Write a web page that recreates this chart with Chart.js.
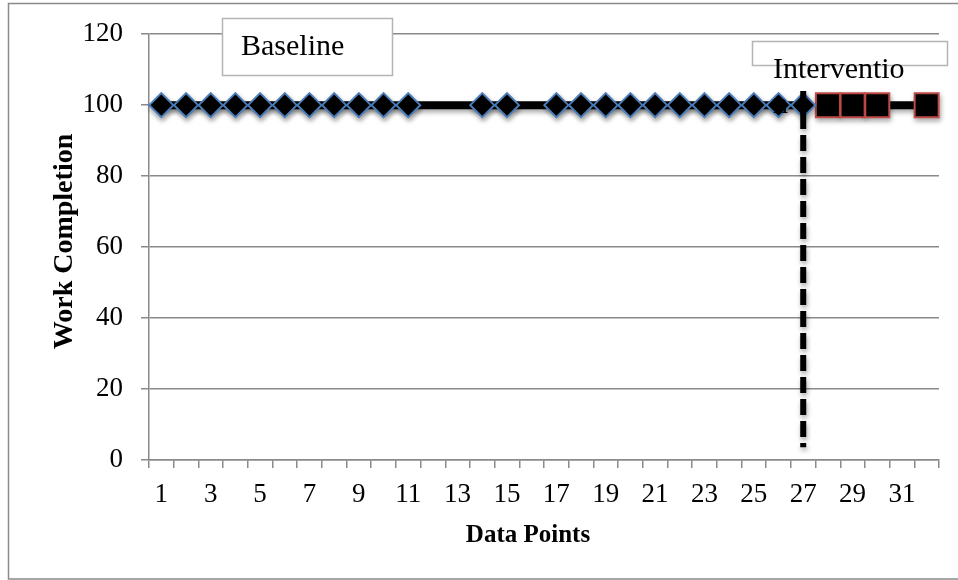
<!DOCTYPE html>
<html>
<head>
<meta charset="utf-8">
<title>Work Completion</title>
<script src="https://cdn.jsdelivr.net/npm/chart.js@4/dist/chart.umd.min.js"></script>
<style>
  html, body { margin: 0; padding: 0; background: #fff; }
  #wrap { width: 958px; height: 580px; }
</style>
</head>
<body>
<div id="wrap"><canvas id="chart" width="958" height="580"></canvas></div>
<script>
// Sessions 1..32 on the x axis
const sessions = ['1','2','3','4','5','6','7','8','9','10','11','12','13','14','15','16',
                  '17','18','19','20','21','22','23','24','25','26','27','28','29','30','31','32'];

// Baseline phase (no data for sessions 12, 13 and 16)
const baselineScores = [100,100,100,100,100,100,100,100,100,100,100,null,null,100,100,null,
                        100,100,100,100,100,100,100,100,100,100,100,null,null,null,null,null];

// Intervention phase (no data for session 31)
const interventionScores = [null,null,null,null,null,null,null,null,null,null,null,null,null,null,null,null,
                            null,null,null,null,null,null,null,null,null,null,null,100,100,100,null,100];

// Y axis ticks
const yTicks = [0, 20, 40, 60, 80, 100, 120];

// Phase change marker after session 27
const phaseChangeSession = '27';
const phaseLineSpan = [104, 3.6];

const SERIF = '"Liberation Serif", "Times New Roman", serif';
const GRID = '#8a8a8a';

// Soft drop shadow under every series
const shadowPlugin = {
  id: 'seriesShadow',
  beforeDatasetDraw(chart) {
    const ctx = chart.ctx;
    ctx.save();
    ctx.shadowColor = 'rgba(0,0,0,0.35)';
    ctx.shadowBlur = 5;
    ctx.shadowOffsetX = 1;
    ctx.shadowOffsetY = 3;
  },
  afterDatasetDraw(chart) {
    chart.ctx.restore();
  }
};

// Outer frame, phase text boxes and axis titles
const decorPlugin = {
  id: 'decor',
  afterDatasetsDraw(chart) {
    const ctx = chart.ctx;
    ctx.save();
    ctx.lineWidth = 1.5;
    ctx.strokeStyle = '#b4b4b4';
    ctx.fillStyle = '#fff';

    // "Baseline" box
    ctx.fillRect(222, 18, 171, 58);
    ctx.strokeRect(222.5, 18.5, 170, 57);

    // "Intervention" box
    ctx.fillRect(752, 41, 196, 25);
    ctx.strokeRect(752.5, 41.5, 195, 24);

    ctx.fillStyle = '#000';
    ctx.font = '30px ' + SERIF;
    ctx.textAlign = 'left';
    ctx.textBaseline = 'alphabetic';
    ctx.fillText('Baseline', 241, 55);
    ctx.fillText('Interventio', 773, 78);
    ctx.fillText('n', 773, 113);
    ctx.restore();
  },
  afterDraw(chart) {
    const ctx = chart.ctx;
    ctx.save();
    ctx.strokeStyle = GRID;
    ctx.lineWidth = 1.5;
    ctx.strokeRect(8.5, 3.5, 1000, 575.5);

    ctx.fillStyle = '#000';
    ctx.textAlign = 'center';
    ctx.textBaseline = 'alphabetic';
    ctx.font = 'bold 25px ' + SERIF;
    ctx.fillText('Data Points', 528, 542);

    ctx.translate(72, 241.5);
    ctx.rotate(-Math.PI / 2);
    ctx.font = 'bold 28px ' + SERIF;
    ctx.fillText('Work Completion', 0, 0);
    ctx.restore();
  }
};

new Chart(document.getElementById('chart'), {
  type: 'line',
  data: {
    labels: sessions,
    datasets: [
      {
        label: 'Phase change',
        data: phaseLineSpan.map(v => ({ x: phaseChangeSession, y: v })),
        borderColor: '#000',
        borderWidth: 6,
        borderDash: [16, 6],
        borderCapStyle: 'butt',
        pointRadius: 0,
        fill: false
      },
      {
        label: 'Baseline',
        data: baselineScores,
        borderColor: '#000',
        borderWidth: 8,
        spanGaps: true,
        pointStyle: 'rectRot',
        pointRadius: 12,
        pointBackgroundColor: '#000',
        pointBorderColor: '#4a7ebb',
        pointBorderWidth: 2,
        fill: false
      },
      {
        label: 'Intervention',
        data: interventionScores,
        borderColor: '#000',
        borderWidth: 8,
        spanGaps: true,
        pointStyle: 'rect',
        pointRadius: 17,
        pointBackgroundColor: '#000',
        pointBorderColor: '#be4b48',
        pointBorderWidth: 2,
        fill: false
      }
    ]
  },
  options: {
    responsive: false,
    devicePixelRatio: 1,
    animation: false,
    layout: { padding: { left: 0, top: 33, right: 19, bottom: 0 } },
    plugins: {
      legend: { display: false },
      tooltip: { enabled: false },
      title: { display: false }
    },
    scales: {
      x: {
        type: 'category',
        offset: true,
        grid: {
          display: true,
          drawOnChartArea: false,
          drawTicks: true,
          tickLength: 8,
          offset: true,
          color: GRID,
          lineWidth: 1.5
        },
        border: { display: true, color: GRID, width: 1.5 },
        ticks: {
          autoSkip: false,
          maxRotation: 0,
          minRotation: 0,
          padding: 11,
          color: '#000',
          font: { family: SERIF, size: 27 },
          callback: (value, index) => (index % 2 === 0 ? sessions[index] : '')
        },
        afterFit: (scale) => { scale.height = 120; }
      },
      y: {
        min: 0,
        max: 120,
        afterBuildTicks: (scale) => { scale.ticks = yTicks.map(v => ({ value: v })); },
        grid: {
          color: GRID,
          lineWidth: 1.5,
          tickLength: 8,
          drawTicks: true
        },
        border: { display: true, color: GRID, width: 1.5 },
        ticks: {
          padding: 18,
          color: '#000',
          font: { family: SERIF, size: 27 }
        },
        afterFit: (scale) => { scale.width = 149; }
      }
    }
  },
  plugins: [shadowPlugin, decorPlugin]
});
</script>
</body>
</html>
